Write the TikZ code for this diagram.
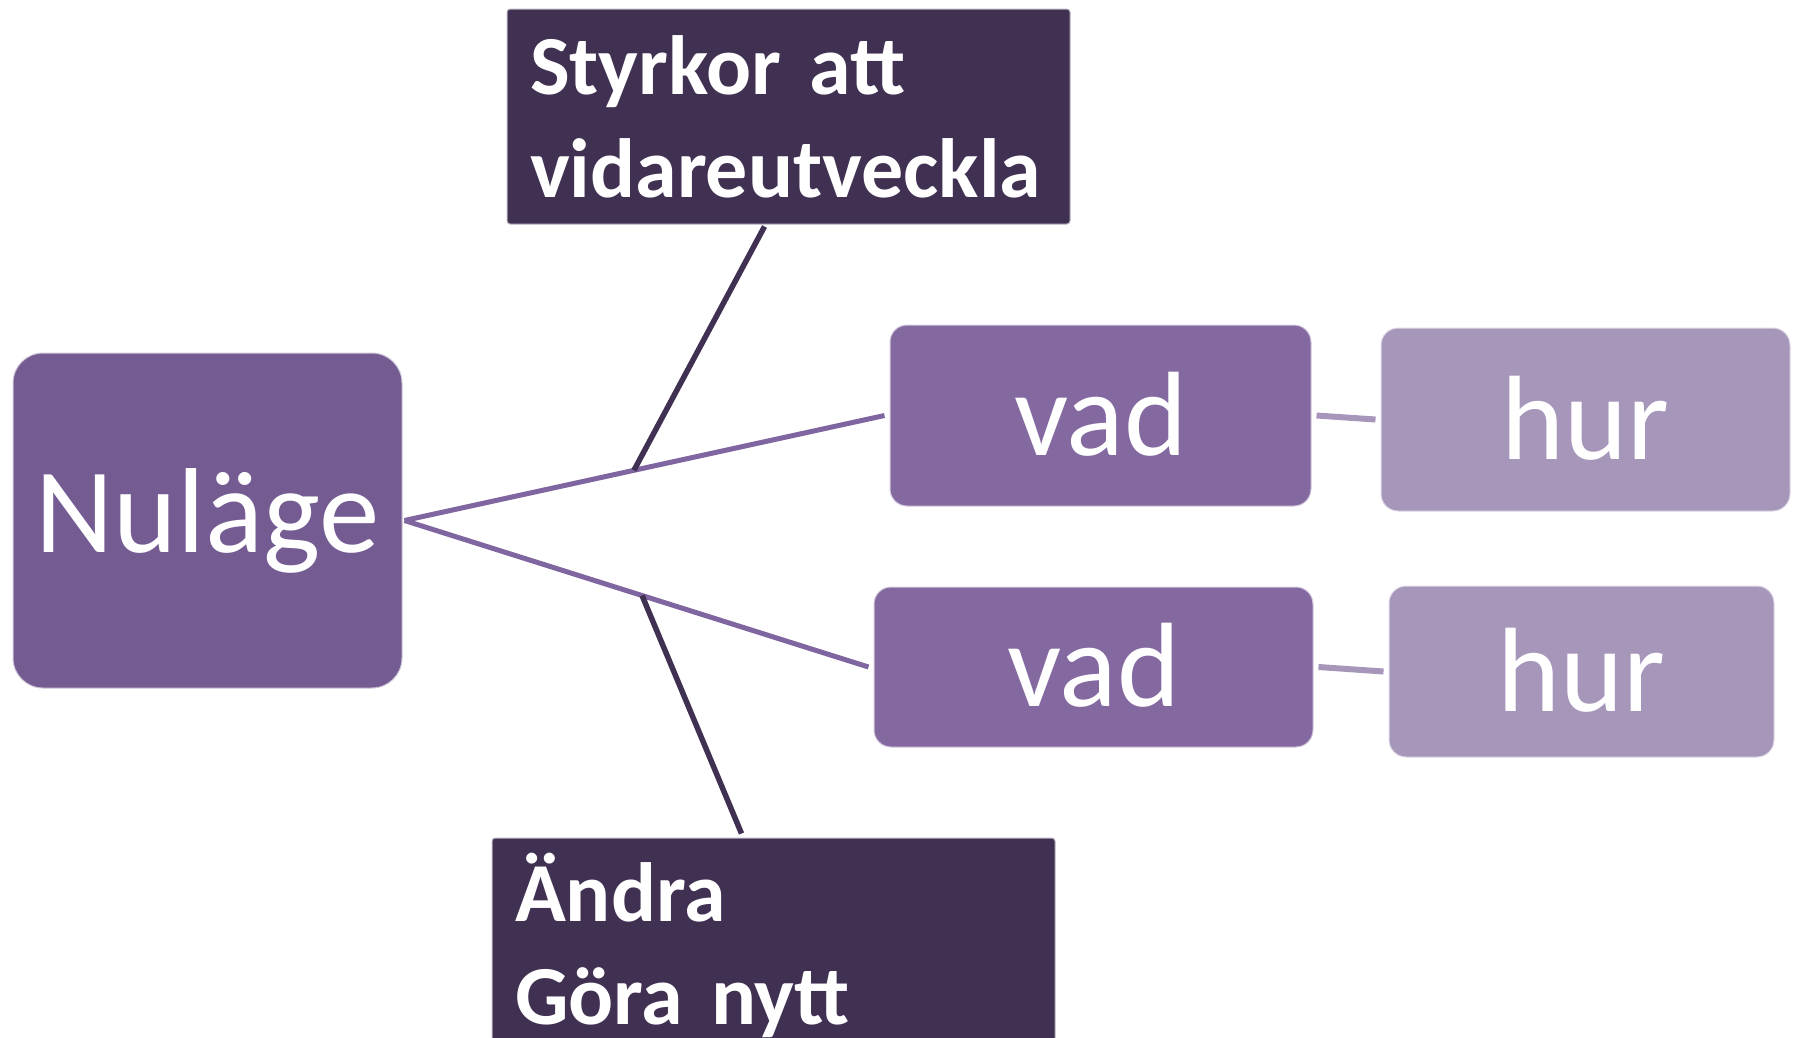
\documentclass[tikz,border=0pt]{standalone}
\usepackage{fontspec}
\setmainfont{Carlito}
\usetikzlibrary{positioning}
\definecolor{nulagefill}{HTML}{745C93}
\definecolor{vadfill}{HTML}{8469A1}
\definecolor{hurfill}{HTML}{A596BA}
\definecolor{darkfill}{HTML}{403152}
\definecolor{midline}{HTML}{8066A0}
\tikzstyle{nulage box} = [rectangle, rounded corners=30pt, fill=nulagefill,
draw=white!65!nulagefill, line width=1pt, text=white,
font=\fontsize{121}{144}\selectfont]
\tikzstyle{vad box} = [rectangle, rounded corners=17pt, fill=vadfill,
draw=white!65!vadfill, line width=1pt, text=white,
font=\fontsize{120}{144}\selectfont]
\tikzstyle{hur box} = [vad box, fill=hurfill, draw=white!65!hurfill]
\tikzstyle{dark box} = [rectangle, rounded corners=3pt, fill=darkfill,
draw=white!65!darkfill, line width=1pt, text=white, align=left,
font=\bfseries\fontsize{84}{103}\selectfont, inner xsep=23pt,
text width=517pt, minimum height=215pt]
\tikzstyle{main line} = [draw=midline, line width=5pt]
\tikzstyle{dark line} = [draw=darkfill, line width=5.5pt]
\tikzstyle{light line} = [draw=hurfill, line width=6pt]

\begin{document}
\begin{tikzpicture}[x=1pt, y=-1pt]
  \useasboundingbox (0,0) rectangle (1799,1037);
  \node[nulage box, minimum width=389pt, minimum height=335pt] (nulage) at (207.5,520.5) {Nuläge};
  \node[dark box] (styrkor) at (788.5,116.5) {Styrkor att\\vidareutveckla};
  \node[dark box] (andra) at (773.5,945.5) {Ändra\\Göra nytt};
  \node[vad box, minimum width=421pt, minimum height=181pt] (vad upper) at (1100.5,415.5) {\raisebox{4pt}{vad}};
  \node[hur box, minimum width=409pt, minimum height=183pt] (hur upper) at (1585.5,419.5) {\raisebox{4pt}{hur}};
  \node[vad box, minimum width=439pt, minimum height=160pt] (vad lower) at (1093.5,667) {\raisebox{4pt}{vad}};
  \node[hur box, minimum width=385pt, minimum height=171pt] (hur lower) at (1581.5,671.5) {\raisebox{4pt}{hur}};

  \coordinate (hub) at ([xshift=2pt]nulage.east);
  \draw[main line] (hub) -- ([xshift=-5pt]vad upper.west) coordinate[pos=0.478] (upper joint);
  \draw[main line] (hub) -- ([xshift=-5pt]vad lower.west) coordinate[pos=0.512] (lower joint);
  \draw[dark line] ([shift={(-24pt,-2pt)}]styrkor.south) -- (upper joint);
  \draw[dark line] (lower joint) -- ([shift={(-32pt,4pt)}]andra.north);
  \draw[light line] ([xshift=5pt]vad upper.east) -- ([xshift=-5pt]hur upper.west);
  \draw[light line] ([xshift=5pt]vad lower.east) -- ([xshift=-5pt]hur lower.west);
\end{tikzpicture}
\end{document}
